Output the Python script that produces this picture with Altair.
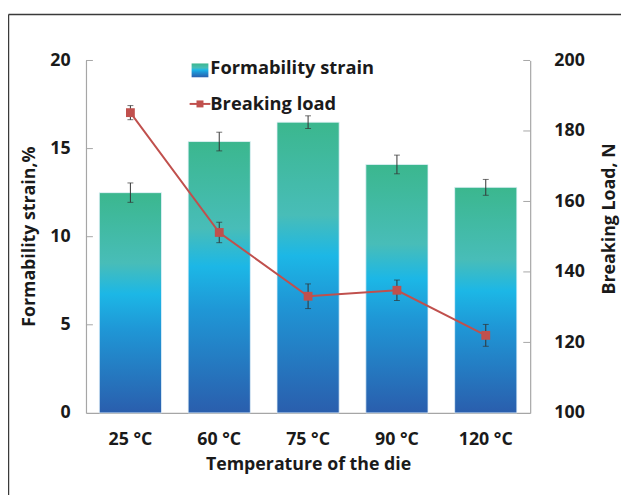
import altair as alt
import pandas as pd

temps = ["25 °C", "60 °C", "75 °C", "90 °C", "120 °C"]
strain = [12.5, 15.4, 16.5, 14.1, 12.8]
strain_err = [0.55, 0.53, 0.36, 0.53, 0.45]
load = [185.2, 151.2, 133.1, 134.8, 122.0]
load_err = [2.0, 2.9, 3.5, 2.9, 3.1]
left_ticks = [5, 10, 15, 20]
right_ticks = [120, 140, 160, 180, 200]
left_labels = [0, 5, 10, 15, 20]
right_labels = [100, 120, 140, 160, 180, 200]

df = pd.DataFrame({
    "temp": temps,
    "strain": strain,
    "s_lo": [v - e for v, e in zip(strain, strain_err)],
    "s_hi": [v + e for v, e in zip(strain, strain_err)],
    "load": load,
    "l_lo": [v - e for v, e in zip(load, load_err)],
    "l_hi": [v + e for v, e in zip(load, load_err)],
})

FONT = "Open Sans"
grad = alt.Gradient(
    gradient="linear",
    stops=[
        alt.GradientStop(color="#3bb78e", offset=0),
        alt.GradientStop(color="#48bdb8", offset=0.32),
        alt.GradientStop(color="#1cb7e6", offset=0.46),
        alt.GradientStop(color="#1f97d6", offset=0.62),
        alt.GradientStop(color="#2a5ead", offset=1),
    ],
    x1=0, x2=0, y1=0, y2=1,
)

xs = alt.X("temp:N", sort=temps,
           scale=alt.Scale(paddingInner=0.3, paddingOuter=0.15),
           axis=alt.Axis(title="Temperature of the die", labelAngle=0,
                         ticks=False, labelPadding=18,
                         titleY=52, titleBaseline="middle"))

yl_scale = alt.Scale(domain=[0, 20], nice=False)
yr_scale = alt.Scale(domain=[100, 200], nice=False)
left_axis = alt.Axis(title="Formability strain,%", values=left_labels,
                     ticks=False, labelPadding=16,
                     titleX=-57, titleY=178, titleAngle=270,
                     titleBaseline="middle", titleAlign="center")
right_axis = alt.Axis(title="Breaking Load, N", orient="right", values=right_labels,
                      ticks=False, labelPadding=24,
                      titleX=80, titleY=160, titleAngle=270,
                      titleBaseline="middle", titleAlign="center")

def yl(f):
    return alt.Y(f, scale=yl_scale, axis=left_axis)

def yr(f):
    return alt.Y(f, scale=yr_scale, axis=right_axis)

base = alt.Chart(df)
ERR = "#333333"

bars = base.mark_bar(color=grad, stroke="#e6f2fa", strokeWidth=0.8).encode(
    x=xs, y=yl("strain:Q"))
bar_err = base.mark_rule(color=ERR, strokeWidth=1).encode(
    x=xs, y=yl("s_lo:Q"), y2="s_hi:Q")
bar_cap_lo = base.mark_tick(color=ERR, size=6, thickness=1, orient="horizontal").encode(
    x=xs, y=yl("s_lo:Q"))
bar_cap_hi = base.mark_tick(color=ERR, size=6, thickness=1, orient="horizontal").encode(
    x=xs, y=yl("s_hi:Q"))
left_tick_marks = alt.Chart(pd.DataFrame({"v": left_ticks})).mark_rule(
    color="#a6a6a6", strokeWidth=1).encode(
    y=yl("v:Q"), x=alt.value(0), x2=alt.value(7))

left = alt.layer(bars, bar_err, bar_cap_lo, bar_cap_hi, left_tick_marks)

line = base.mark_line(color="#c0504d", strokeWidth=2).encode(x=xs, y=yr("load:Q"))
line_err = base.mark_rule(color=ERR, strokeWidth=1).encode(
    x=xs, y=yr("l_lo:Q"), y2="l_hi:Q")
line_cap_lo = base.mark_tick(color=ERR, size=6, thickness=1, orient="horizontal").encode(
    x=xs, y=yr("l_lo:Q"))
line_cap_hi = base.mark_tick(color=ERR, size=6, thickness=1, orient="horizontal").encode(
    x=xs, y=yr("l_hi:Q"))
pts = base.mark_point(shape="square", filled=True, size=80, color="#c0504d", opacity=1).encode(
    x=xs, y=yr("load:Q"))
right_tick_marks = alt.Chart(pd.DataFrame({"v": right_ticks})).mark_rule(
    color="#a6a6a6", strokeWidth=1).encode(
    y=yr("v:Q"), x=alt.value(443), x2=alt.value(450))

right = alt.layer(line, line_err, line_cap_lo, line_cap_hi, pts, right_tick_marks)

one = pd.DataFrame({"a": [0]})
leg_rect = alt.Chart(one).mark_rect(color=grad).encode(
    x=alt.value(107), x2=alt.value(124), y=alt.value(3), y2=alt.value(17))
leg_t1 = alt.Chart(pd.DataFrame({"t": ["Formability strain"]})).mark_text(
    align="left", baseline="middle", font=FONT, fontWeight="bold", fontSize=18.5, color="#1a1a1a").encode(
    x=alt.value(126), y=alt.value(8), text="t:N")
leg_line = alt.Chart(one).mark_rule(color="#c0504d", strokeWidth=2).encode(
    x=alt.value(105), x2=alt.value(126), y=alt.value(44))
leg_pt = alt.Chart(one).mark_point(
    shape="square", filled=True, size=50, color="#c0504d", opacity=1).encode(
    x=alt.value(115.5), y=alt.value(44))
leg_t2 = alt.Chart(pd.DataFrame({"t": ["Breaking load"]})).mark_text(
    align="left", baseline="middle", font=FONT, fontWeight="bold", fontSize=18.5, color="#1a1a1a").encode(
    x=alt.value(126), y=alt.value(44), text="t:N")

frame_l = alt.Chart(one).mark_rule(color="#3a3a3a", strokeWidth=1.5).encode(
    x=alt.value(-78.5), y=alt.value(-46.5), y2=alt.value(600))
frame_t = alt.Chart(one).mark_rule(color="#3a3a3a", strokeWidth=1.5).encode(
    x=alt.value(-78.5), x2=alt.value(700), y=alt.value(-46.5))

extras = alt.layer(leg_rect, leg_t1, leg_line, leg_pt, leg_t2, frame_l, frame_t)

chart = alt.layer(left, right, extras).resolve_scale(y="independent").properties(
    width=450, height=357,
    autosize=alt.AutoSizeParams(type="none"),
    padding={"left": 79, "top": 50, "right": 92, "bottom": 80},
).configure_view(stroke=None).configure_axis(
    domainColor="#a6a6a6", domainWidth=1.2, grid=False,
    labelFont=FONT, labelFontWeight="bold", labelFontSize=18, labelColor="#1a1a1a",
    titleFont=FONT, titleFontWeight="bold", titleFontSize=18, titleColor="#1a1a1a",
)

chart.save("out.html", embed_options={"renderer": "svg", "actions": False})
